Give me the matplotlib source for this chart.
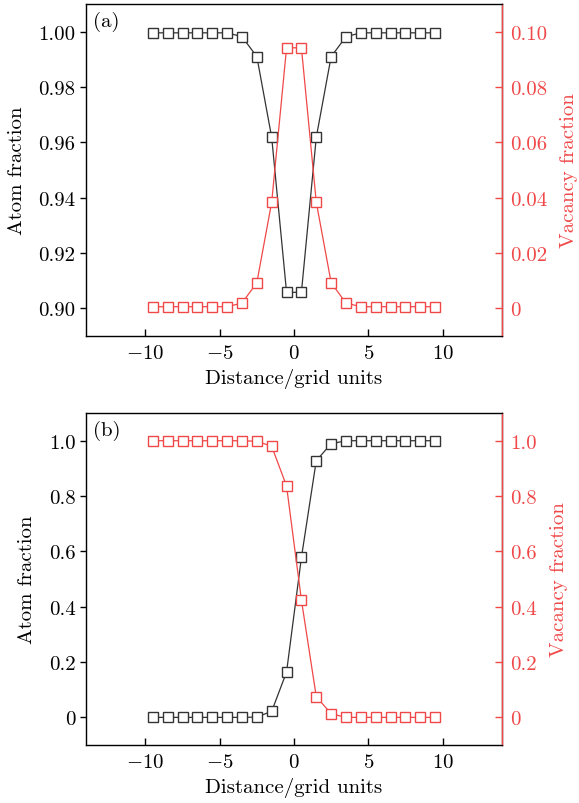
import numpy as np
import matplotlib.pyplot as plt

plt.rcParams['font.family'] = 'cmr10'
plt.rcParams['mathtext.fontset'] = 'cm'
plt.rcParams['axes.formatter.use_mathtext'] = True
plt.rcParams['font.size'] = 15

# grid positions (cell centres)
x = np.arange(-9.5, 10, 1.0)

# panel (a): symmetric profile
atom_a = [0.9996, 0.9996, 0.9996, 0.9996, 0.9996, 0.9996, 0.9982, 0.9910, 0.9618, 0.9058,
          0.9058, 0.9618, 0.9910, 0.9982, 0.9996, 0.9996, 0.9996, 0.9996, 0.9996, 0.9996]
vac_a = [0.0006, 0.0006, 0.0006, 0.0006, 0.0006, 0.0006, 0.0019, 0.0093, 0.0384, 0.0942,
         0.0942, 0.0384, 0.0093, 0.0019, 0.0006, 0.0006, 0.0006, 0.0006, 0.0006, 0.0006]

# panel (b): step profile
atom_b = [0.0, 0.0, 0.0, 0.0, 0.0, 0.0, 0.0, 0.001, 0.022, 0.164,
          0.578, 0.928, 0.989, 1.0, 1.0, 1.0, 1.0, 1.0, 1.0, 1.0]
vac_b = [1.0, 1.0, 1.0, 1.0, 1.0, 1.0, 1.0, 0.998, 0.980, 0.836,
         0.424, 0.075, 0.013, 0.0, 0.0, 0.0, 0.0, 0.0, 0.0, 0.0]

ticks_a_left = [0.90, 0.92, 0.94, 0.96, 0.98, 1.00]
labels_a_left = ['0.90', '0.92', '0.94', '0.96', '0.98', '1.00']
ticks_a_right = [0, 0.02, 0.04, 0.06, 0.08, 0.10]
labels_a_right = ['0', '0.02', '0.04', '0.06', '0.08', '0.10']
ticks_b = [0, 0.2, 0.4, 0.6, 0.8, 1.0]
labels_b = ['0', '0.2', '0.4', '0.6', '0.8', '1.0']

black = '#333333'
red = '#f04848'

fig = plt.figure(figsize=(5.79, 8.04), dpi=100)


def panel(rect, atom, vac, lim_l, lim_r, tl, ll, tr, lr, tag):
    ax = fig.add_axes(rect)
    ax.plot(x, atom, '-s', color=black, lw=0.9, ms=7.5, mfc='white', mec=black, mew=1.0)
    ax.set_xlim(-14, 14)
    ax.set_ylim(*lim_l)
    ax.set_xticks([-10, -5, 0, 5, 10])
    ax.set_yticks(tl)
    ax.set_yticklabels(ll)
    ax.set_xlabel('Distance/grid units', labelpad=4)
    ax.set_ylabel('Atom fraction', labelpad=9)
    ax.tick_params(axis='x', direction='in', length=5, width=1, top=False, pad=6)
    ax.tick_params(axis='y', direction='out', length=4, width=1)
    for s in ax.spines.values():
        s.set_linewidth(1.0)
        s.set_color(black)
    ax.text(0.018, 0.98, tag, transform=ax.transAxes, ha='left', va='top')

    ax2 = ax.twinx()
    ax2.plot(x, vac, '-s', color=red, lw=0.9, ms=7.5, mfc='white', mec=red, mew=1.0)
    ax2.set_ylim(*lim_r)
    ax2.set_yticks(tr)
    ax2.set_yticklabels(lr)
    ax2.set_ylabel('Vacancy fraction', color=red, labelpad=9)
    ax2.tick_params(axis='y', direction='in', length=5, width=1, colors=red, pad=6)
    ax2.spines['right'].set_color(red)
    ax2.spines['right'].set_linewidth(1.0)
    return ax, ax2


panel([0.1485, 0.5808, 0.7185, 0.4129], atom_a, vac_a, (0.89, 1.01), (-0.01, 0.11),
      ticks_a_left, labels_a_left, ticks_a_right, labels_a_right, '(a)')
panel([0.1485, 0.0721, 0.7185, 0.4129], atom_b, vac_b, (-0.1, 1.1), (-0.1, 1.1),
      ticks_b, labels_b, ticks_b, labels_b, '(b)')

fig.savefig('out.png', dpi=100)
